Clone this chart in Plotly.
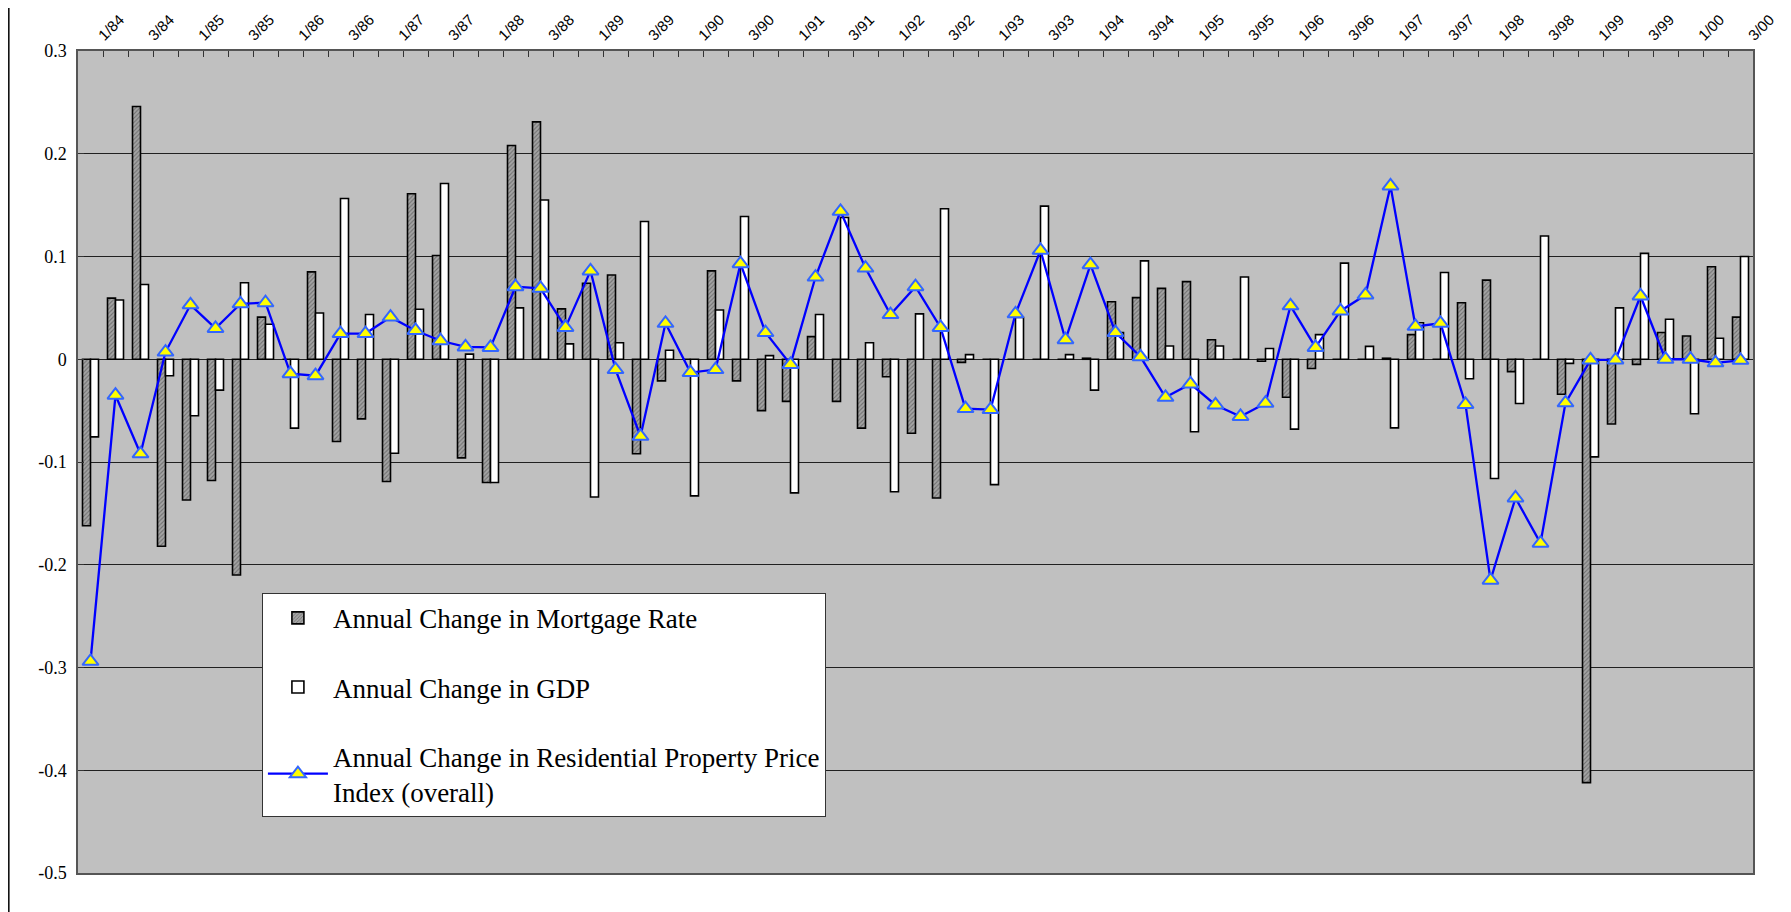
import plotly.graph_objects as go

quarters = [
    "1/84", "2/84", "3/84", "4/84", "1/85", "2/85", "3/85", "4/85",
    "1/86", "2/86", "3/86", "4/86", "1/87", "2/87", "3/87", "4/87",
    "1/88", "2/88", "3/88", "4/88", "1/89", "2/89", "3/89", "4/89",
    "1/90", "2/90", "3/90", "4/90", "1/91", "2/91", "3/91", "4/91",
    "1/92", "2/92", "3/92", "4/92", "1/93", "2/93", "3/93", "4/93",
    "1/94", "2/94", "3/94", "4/94", "1/95", "2/95", "3/95", "4/95",
    "1/96", "2/96", "3/96", "4/96", "1/97", "2/97", "3/97", "4/97",
    "1/98", "2/98", "3/98", "4/98", "1/99", "2/99", "3/99", "4/99",
    "1/00", "2/00", "3/00",
]

mortgage_rate_change = [
    -0.162, 0.0595, 0.246, -0.182, -0.137, -0.118, -0.210, 0.041, 0.0, 0.085,
    -0.080, -0.058, -0.119, 0.161, 0.101, -0.096, -0.120, 0.208, 0.231, 0.049,
    0.074, 0.082, -0.092, -0.021, 0.0, 0.086, -0.021, -0.050, -0.041, 0.022,
    -0.041, -0.067, -0.017, -0.072, -0.135, -0.003, 0.0, 0.0, 0.0, 0.0,
    0.001, 0.056, 0.060, 0.069, 0.0755, 0.019, 0.0, -0.002, -0.037, -0.009,
    0.0, 0.0, 0.001, 0.024, 0.0, 0.055, 0.077, -0.012, 0.0, -0.034,
    -0.412, -0.063, -0.005, 0.026, 0.0226, 0.090, 0.041,
]

gdp_change = [
    -0.0755, 0.0577, 0.0727, -0.016, -0.055, -0.030, 0.0744, 0.034, -0.067, 0.045,
    0.1565, 0.0435, -0.0915, 0.0487, 0.171, 0.005, -0.120, 0.050, 0.155, 0.015,
    -0.134, 0.016, 0.134, 0.0087, -0.133, 0.048, 0.139, 0.0035, -0.130, 0.0435,
    0.138, 0.016, -0.129, 0.0442, 0.1464, 0.0045, -0.122, 0.0407, 0.149, 0.0045,
    -0.030, 0.026, 0.0957, 0.0129, -0.0706, 0.0129, 0.080, 0.0104, -0.068, 0.024,
    0.0936, 0.0125, -0.0668, 0.0355, 0.0845, -0.019, -0.116, -0.043, 0.120, -0.004,
    -0.095, 0.050, 0.103, 0.039, -0.053, 0.0205, 0.100,
]

price_index_change = [
    -0.294, -0.035, -0.092, 0.007, 0.053, 0.030, 0.054, 0.055, -0.014, -0.016,
    0.025, 0.025, 0.041, 0.028, 0.018, 0.012, 0.0115, 0.0706, 0.069, 0.031,
    0.086, -0.010, -0.075, 0.035, -0.013, -0.010, 0.093, 0.026, -0.005, 0.080,
    0.144, 0.0887, 0.0435, 0.0706, 0.031, -0.048, -0.049, 0.0442, 0.106, 0.019,
    0.092, 0.026, 0.0024, -0.037, -0.024, -0.0445, -0.0557, -0.0428, 0.052, 0.0115,
    0.047, 0.0626, 0.1687, 0.032, 0.035, -0.044, -0.215, -0.135, -0.179, -0.0424,
    -0.0007, -0.0007, 0.0616, 0.0, 0.0, -0.0035, -0.001,
]

y_ticks = [-0.5, -0.4, -0.3, -0.2, -0.1, 0.0, 0.1, 0.2, 0.3]
y_tick_text = ["-0.5", "-0.4", "-0.3", "-0.2", "-0.1", "0", "0.1", "0.2", "0.3"]

# quarter labels shown along the top: every second quarter
labelled_quarters = quarters[::2]

fig = go.Figure()

fig.add_trace(go.Bar(
    x=quarters, y=mortgage_rate_change,
    name="Annual Change in Mortgage Rate",
    legendgroup="a",
    marker=dict(
        color="#a0a0a0",
        line=dict(color="black", width=1.6),
        pattern=dict(shape="/", fgcolor="#3c3c3c", bgcolor="#a4a4a4",
                     size=3, solidity=0.35),
    ),
))

fig.add_trace(go.Bar(
    x=quarters, y=gdp_change,
    name="Annual Change in GDP",
    legendgroup="b",
    marker=dict(color="white", line=dict(color="black", width=1.6)),
))

fig.add_trace(go.Scatter(
    x=quarters, y=price_index_change,
    name="Annual Change in Residential Property Price<br>Index (overall)",
    legendgroup="c",
    mode="lines+markers",
    line=dict(color="#0000ff", width=2.3),
    marker=dict(symbol="triangle-up", size=14, color="#ffff00",
                line=dict(color="#3366ff", width=2)),
))

annotations = [
    dict(x=q, y=1, xref="x", yref="paper", text=q, showarrow=False,
         textangle=-45, xanchor="center", yanchor="middle",
         xshift=20, yshift=24,
         font=dict(family="Liberation Sans", size=15, color="black"))
    for q in labelled_quarters
]

# figure is offset by the page body's 8px margin, so width/height reduced accordingly
fig.update_layout(
    width=1783, height=904,
    margin=dict(l=70, r=38, t=43, b=39, autoexpand=False),
    paper_bgcolor="white",
    plot_bgcolor="#c0c0c0",
    barmode="group",
    bargap=0.36,
    bargroupgap=0,
    showlegend=True,
    annotations=annotations,
    legend=dict(
        x=0.1098, y=0.3408, xanchor="left", yanchor="top",
        bgcolor="white", bordercolor="#333333", borderwidth=1,
        font=dict(family="Liberation Serif", size=27, color="black"),
        tracegroupgap=31,
        traceorder="grouped",
        itemwidth=60,
    ),
    xaxis=dict(
        type="category",
        side="top",
        automargin=False,
        range=[-0.5, len(quarters) - 0.5],
        showticklabels=False,
        tickson="boundaries",
        ticks="inside",
        ticklen=6,
        tickcolor="#333333",
        showgrid=False,
        showline=True,
        mirror=True,
        linecolor="#555555",
        linewidth=1.5,
        zeroline=False,
    ),
    yaxis=dict(
        automargin=False,
        range=[-0.5, 0.3],
        tickmode="array",
        tickvals=y_ticks,
        ticktext=y_tick_text,
        ticks="inside",
        ticklen=6,
        tickcolor="#333333",
        tickfont=dict(family="Liberation Serif", size=18, color="black"),
        ticklabelstandoff=6,
        showgrid=True,
        gridcolor="#202020",
        gridwidth=1,
        zeroline=True,
        zerolinecolor="#202020",
        zerolinewidth=1,
        showline=True,
        mirror=True,
        linecolor="#555555",
        linewidth=1.5,
    ),
    shapes=[dict(
        type="line", xref="paper", yref="paper",
        x0=-0.0413, x1=-0.0413, y0=-0.06, y1=1.06,
        line=dict(color="black", width=1.5),
    )],
)

fig.write_html("out.html")
